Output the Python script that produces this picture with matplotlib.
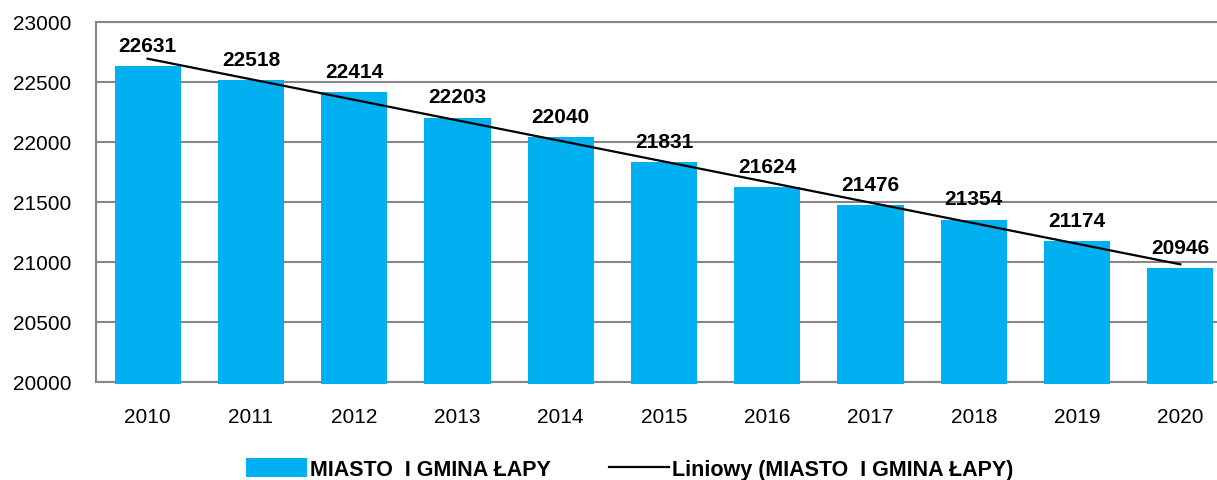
import numpy as np
import matplotlib
matplotlib.use("Agg")
import matplotlib.pyplot as plt

years = ["2010", "2011", "2012", "2013", "2014", "2015", "2016", "2017", "2018", "2019", "2020"]
population = [22631, 22518, 22414, 22203, 22040, 21831, 21624, 21476, 21354, 21174, 20946]
series_name = "MIASTO  I GMINA ŁAPY"
trend_name = "Liniowy (MIASTO  I GMINA ŁAPY)"
y_ticks = [20000, 20500, 21000, 21500, 22000, 22500, 23000]

plt.rcParams['font.family'] = ['Liberation Sans', 'DejaVu Sans']
fs = 15

fig = plt.figure(figsize=(12.17, 4.81), dpi=100)
ax = fig.add_axes([96 / 1217, 98 / 481, 1136 / 1217, 360 / 481])

x = np.arange(len(years))
bars = ax.bar(x, np.array(population) - 19980, bottom=19980, width=0.64,
              color="#00B0F0", zorder=3, clip_on=False)

# linear trendline like excel does it
coef = np.polyfit(x, population, 1)
trend, = ax.plot([x[0], x[-1]], np.polyval(coef, [x[0], x[-1]]), color="black",
                 linewidth=1.6, zorder=4)

for xi, v in zip(x, population):
    ax.annotate(str(v), (xi, v), xytext=(0, 11), textcoords="offset points",
                ha="center", va="baseline", fontsize=fs, fontweight="bold")

ax.set_xlim(-0.5, len(years) - 0.5)
ax.set_ylim(20000, 23000)
ax.set_yticks(y_ticks)
ax.set_xticks(x)
ax.set_xticklabels(years)
ax.tick_params(axis="both", length=0, labelsize=fs)
ax.tick_params(axis="y", pad=18)
ax.tick_params(axis="x", pad=18)
ax.yaxis.grid(True, color="#868686", linewidth=1.5, zorder=0)
ax.set_axisbelow(True)
for s in ["left", "bottom", "top"]:
    ax.spines[s].set_color("#868686")
    ax.spines[s].set_linewidth(1.5)
ax.spines["right"].set_visible(False)

fig.legend([bars, trend], [series_name, trend_name], loc="center",
           bbox_to_anchor=(630 / 1217, 1 - 470 / 481), ncol=2,
           frameon=False, prop={"size": 15.5, "weight": "bold"},
           handlelength=2.8, handleheight=0.95, handletextpad=0.15,
           columnspacing=2.7, borderaxespad=0)

fig.savefig("out.png", dpi=100)
